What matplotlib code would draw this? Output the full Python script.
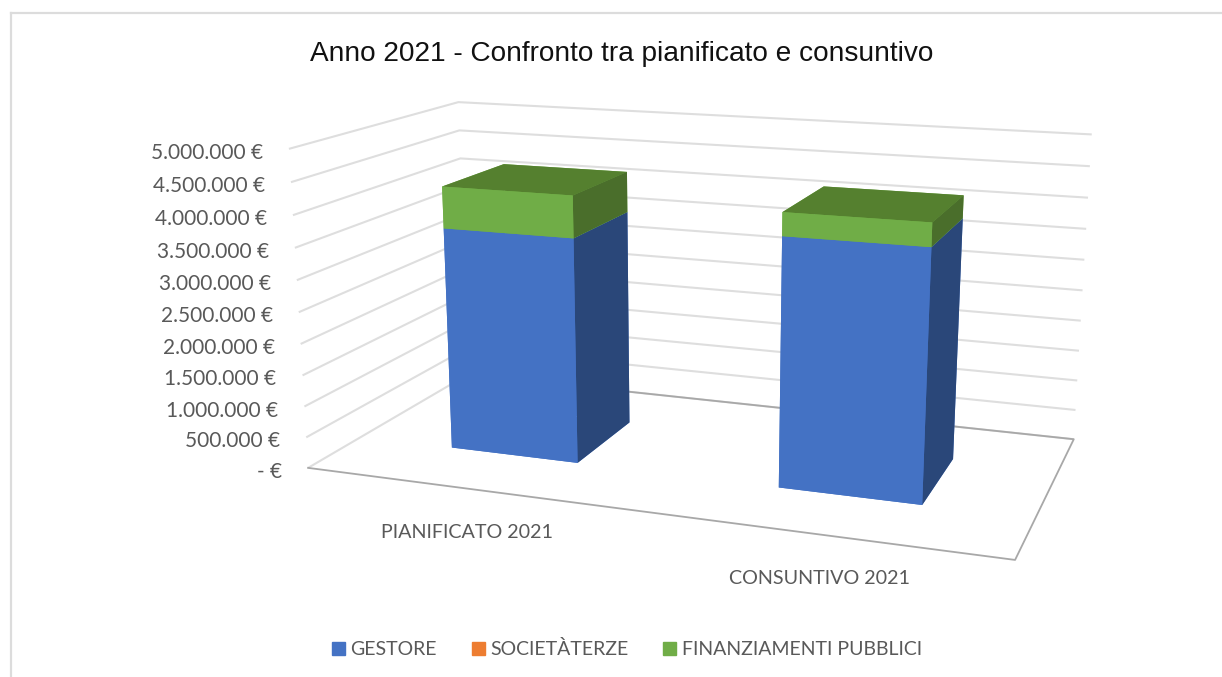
import numpy as np
import matplotlib
matplotlib.use("Agg")
import matplotlib.pyplot as plt
from matplotlib.patches import Patch
from matplotlib.lines import Line2D

W, H = 1222, 677
title = "Anno 2021 - Confronto tra pianificato e consuntivo"
categories = ["PIANIFICATO 2021", "CONSUNTIVO 2021"]
gestore = [3595000, 3867000]
societa_terze = [0, 0]
finanziamenti = [660000, 355000]
series_names = ["GESTORE", "SOCIETÀTERZE", "FINANZIAMENTI PUBBLICI"]
z_ticks = [0, 500000, 1000000, 1500000, 2000000, 2500000, 3000000, 3500000, 4000000, 4500000, 5000000]
z_labels = ["- €", "500.000 €", "1.000.000 €", "1.500.000 €", "2.000.000 €", "2.500.000 €",
            "3.000.000 €", "3.500.000 €", "4.000.000 €", "4.500.000 €", "5.000.000 €"]

# camera calibration: axes-box corners (x, y, z in millions) -> image pixels
calib_world = np.array([(0,0,0),(0,0,5),(0,0,4.5),(0,0,4),(0,1,5),(0,1,4.5),(0,1,4),(2,0,0),(2,1,0),
                        (2,1,5),(2,1,4.5),(2,1,4),(2,1,3.5),(2,1,3)], float)
calib_px = np.array([(308,468),(289,149),(291,182),(293,215),(458,102),(459,131),(461,158),(1015,560),(1074,439),
                     (1092,134),(1090,167),(1088,197),(1086,229),(1084,260)], float)

TEXT = "#595959"
fig = plt.figure(figsize=(W/100, H/100), dpi=100, facecolor="white")
h = W/H
ax = fig.add_axes([0, (1-h)/2, 1, h], projection="3d", computed_zorder=False)
ax.set_axis_off()
ax.patch.set_alpha(0)
ax.apply_aspect()

uv = ax.transData.inverted().transform(np.c_[calib_px[:,0], H-calib_px[:,1]])
rows = []
for (X,Y,Z),(u,v) in zip(calib_world, uv):
    rows.append([X,Y,Z,1,0,0,0,0,-u*X,-u*Y,-u*Z,-u])
    rows.append([0,0,0,0,X,Y,Z,1,-v*X,-v*Y,-v*Z,-v])
p = np.linalg.svd(np.array(rows))[2][-1].reshape(3,4)
p = p/p[2,3]
p[:,2] *= 1e-6
M = np.array([p[0], p[1], [0,0,0,-1], p[2]])
ax.get_proj = lambda: M

def project(x, y, z):
    d = p @ np.array([x, y, z, 1.0])
    return d[0]/d[2], d[1]/d[2]

# walls and floor
for z in z_ticks:
    ax.plot([0,0,2],[0,1,1],[z,z,z],color="#dedede",lw=1.5,zorder=1,solid_capstyle="butt")
ax.plot([0,2,2,0],[0,0,1,1],[0,0,0,0],color="#a8a8a8",lw=1.3,zorder=1.5)

# bars
BLUE  = ["#4472c4","#4472c4","#4472c4","#4472c4","#4472c4","#2a4779"]
GREEN = ["#70ad47","#55802f","#70ad47","#70ad47","#70ad47","#4a6e2b"]
ORANGE= ["#ed7d31"]*6
width, depth = 0.4, 0.4
for i in range(len(categories)):
    base = 0
    for k, (vals, cols) in enumerate([(gestore, BLUE), (societa_terze, ORANGE), (finanziamenti, GREEN)]):
        if vals[i] > 0:
            ax.bar3d(i+0.3, 0.3, base, width, depth, vals[i], color=cols, shade=False,
                     linewidth=0, edgecolor="none", zorder=3+k)
        base += vals[i]

# tick labels
for z, lab in zip(z_ticks, z_labels):
    ax.annotate(lab, project(0,0,z), xytext=(-26,-4), textcoords="offset pixels", ha="right", va="center",
                fontsize=15, color=TEXT, family="Lato", annotation_clip=False)
for i, lab in enumerate(categories):
    ax.annotate(lab, project(i+0.5,0,0), xytext=(0,-44), textcoords="offset pixels", ha="center", va="center",
                fontsize=14.2, color=TEXT, family="Lato", annotation_clip=False)

fig.text(621.5/W, 1-54/H, title, ha="center", va="center", fontsize=20.2, color="#111111", family="Liberation Sans")

handles = [Patch(color="#4472c4"), Patch(color="#ed7d31"), Patch(color="#70ad47")]
fig.legend(handles, series_names, loc="center", bbox_to_anchor=(627/W, 1-649/H), ncol=3, frameon=False,
           handlelength=0.67, handleheight=0.67, handletextpad=0.27, columnspacing=1.8,
           prop={"family":"Lato","size":14}, labelcolor=TEXT)

# chart frame
FR = "#dcdcdc"
fig.add_artist(Line2D([11/W,11/W],[0,1-13/H],color=FR,lw=1.6))
fig.add_artist(Line2D([11/W,1],[1-13/H,1-13/H],color=FR,lw=1.6))
fig.savefig("out.png",dpi=100)
